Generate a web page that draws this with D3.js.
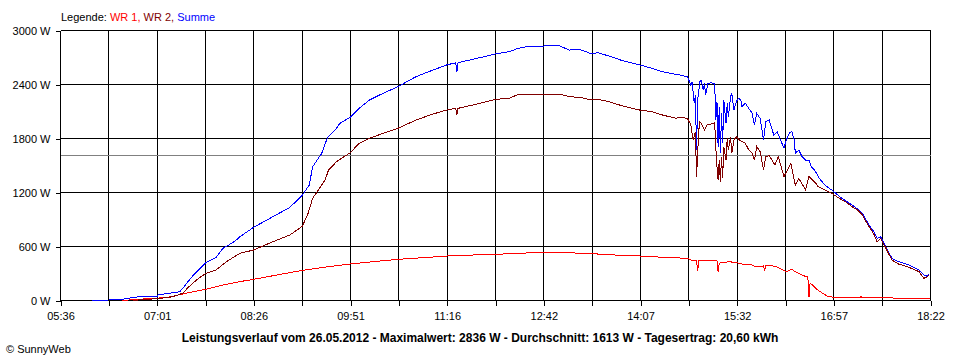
<!DOCTYPE html>
<html>
<head>
<meta charset="utf-8">
<script src="https://cdn.jsdelivr.net/npm/d3@7"></script>
<style>
body { margin: 0; background: #fff; }
svg { font-family: "Liberation Sans", Arial, sans-serif; }
</style>
</head>
<body>
<div id="chart"></div>
<script>

// Leistung in W, Zeit hh:mm
var wr1 = [["06:30",0],["06:43",12],["06:55",22],["07:01",25],["07:05",30],["07:12",40],["07:20",62],["07:30",90],["07:44",124],["08:00",175],["08:14",210],["08:26",235],["08:43",275],["08:58",310],["09:09",335],["09:30",372],["09:51",405],["10:10",430],["10:33",457],["11:00",480],["11:16",494],["11:40",506],["11:59",513],["12:20",525],["12:42",535],["13:00",532],["13:24",520],["13:45",505],["14:07",494],["14:30",478],["14:48",469],["14:52",442],["14:56",445],["14:57",328],["14:58",440],["15:01",450],["15:07",450],["15:14",440],["15:15",313],["15:16",415],["15:19",420],["15:25",431],["15:31",420],["15:36",405],["15:45",394],["15:48",376],["15:54",383],["15:55",385],["15:56",339],["15:57",390],["16:00",394],["16:06",376],["16:12",339],["16:15",320],["16:20",346],["16:23",320],["16:26",302],["16:31",272],["16:34",264],["16:35",36],["16:36",191],["16:38",172],["16:42",124],["16:47",80],["16:51",50],["16:56",36],["17:20",36],["17:21",42],["17:22",30],["18:22",25]];

var wr2 = [["06:40",0],["06:50",12],["07:01",20],["07:12",36],["07:18",55],["07:24",83],["07:28",140],["07:33",198],["07:38",250],["07:44",300],["07:53",339],["08:02",431],["08:14",524],["08:26",561],["08:43",653],["08:58",728],["09:05",790],["09:09",828],["09:14",969],["09:18",1135],["09:24",1246],["09:29",1339],["09:32",1450],["09:39",1542],["09:51",1642],["09:59",1746],["10:08",1802],["10:20",1857],["10:33",1913],["10:49",2005],["11:04",2072],["11:16",2116],["11:24",2135],["11:25",2061],["11:26",2135],["11:39",2172],["11:59",2235],["12:11",2246],["12:19",2291],["12:41",2291],["12:55",2294],["13:04",2265],["13:13",2257],["13:24",2228],["13:29",2235],["13:39",2209],["13:51",2161],["14:06",2116],["14:17",2098],["14:26",2061],["14:38",2024],["14:41",2035],["14:48",2024],["14:51",1950],["14:53",1783],["14:55",1876],["14:56",1376],["14:58",1894],["14:59",1987],["15:01",1950],["15:03",1894],["15:05",1950],["15:09",1961],["15:12",1976],["15:13",1691],["15:14",1486],["15:15",1339],["15:16",1561],["15:17",1320],["15:18",1598],["15:19",1358],["15:20",1709],["15:22",1561],["15:23",1802],["15:24",1672],["15:26",1820],["15:27",1635],["15:29",1783],["15:31",1820],["15:33",1791],["15:36",1765],["15:39",1746],["15:42",1672],["15:45",1635],["15:47",1561],["15:49",1709],["15:52",1654],["15:55",1450],["15:57",1598],["16:00",1610],["16:05",1506],["16:08",1598],["16:13",1376],["16:16",1450],["16:19",1524],["16:23",1283],["16:26",1358],["16:32",1228],["16:35",1376],["16:38",1339],["16:41",1302],["16:43",1264],["16:49",1228],["16:55",1191],["17:04",1117],["17:07",1098],["17:13",1042],["17:17",1013],["17:22",950],["17:27",840],["17:32",740],["17:35",653],["17:38",690],["17:42",598],["17:48",450],["17:54",405],["18:03",369],["18:12",320],["18:16",247],["18:19",260],["18:21",290]];

var summe = [["06:04",0],["06:30",10],["06:33",20],["06:45",42],["07:01",42],["07:02",65],["07:12",80],["07:21",98],["07:24",140],["07:27",191],["07:33",283],["07:44",420],["07:53",480],["07:59",580],["08:02",600],["08:10",664],["08:14",709],["08:26",813],["08:43",931],["08:58",1035],["09:09",1172],["09:15",1283],["09:18",1486],["09:26",1635],["09:31",1810],["09:39",1913],["09:42",1969],["09:51",2035],["09:59",2135],["10:08",2228],["10:20",2302],["10:33",2375],["10:49",2487],["11:04",2561],["11:16",2617],["11:24",2642],["11:25",2542],["11:26",2642],["11:39",2680],["11:59",2739],["12:11",2765],["12:19",2802],["12:29",2827],["12:41",2827],["12:50",2836],["12:55",2831],["13:04",2783],["13:13",2790],["13:24",2739],["13:29",2753],["13:39",2716],["13:51",2664],["14:06",2617],["14:17",2580],["14:26",2542],["14:38",2513],["14:41",2506],["14:48",2487],["14:51",2394],["14:52",2431],["14:54",2191],["14:55",2283],["14:56",1672],["14:57",2228],["14:59",2431],["15:00",2450],["15:02",2339],["15:03",2413],["15:04",2283],["15:06",2413],["15:09",2420],["15:12",2406],["15:13",2005],["15:14",2209],["15:15",1709],["15:16",2153],["15:17",1635],["15:18",2080],["15:19",1746],["15:20",2228],["15:22",1968],["15:23",2191],["15:24",2042],["15:26",2265],["15:27",2302],["15:29",2116],["15:31",2209],["15:33",2246],["15:35",2228],["15:36",2153],["15:39",2191],["15:42",2135],["15:45",2080],["15:47",1950],["15:49",2080],["15:52",2024],["15:55",1783],["15:57",1987],["16:00",2005],["16:04",1839],["16:07",1876],["16:13",1691],["16:15",1783],["16:18",1865],["16:20",1876],["16:22",1783],["16:23",1635],["16:26",1672],["16:29",1598],["16:32",1561],["16:35",1561],["16:37",1486],["16:40",1450],["16:44",1358],["16:49",1283],["16:55",1228],["17:04",1135],["17:13",1061],["17:17",1024],["17:22",969],["17:27",857],["17:32",765],["17:35",691],["17:38",709],["17:42",617],["17:48",469],["17:54",431],["18:03",394],["18:12",339],["18:16",283],["18:19",270],["18:21",290]];

var xLabels = ["05:36","07:01","08:26","09:51","11:16","12:42","14:07","15:32","16:57","18:22"];
var yTicks = [0, 600, 1200, 1800, 2400, 3000];
var durchschnitt = 1613;

var titel = "Leistungsverlauf vom 26.05.2012 - Maximalwert: 2836 W - Durchschnitt: 1613 W - Tagesertrag: 20,60 kWh";

var w = 960;
var h = 360;

var parse = d3.timeParse("%H:%M");

var svg = d3.select("#chart")
	.append("svg")
	.attr("width", w)
	.attr("height", h);

var t0 = parse(xLabels[0]);
var t1 = parse(xLabels[xLabels.length - 1]);

var x = d3.scaleTime().domain([t0, t1]).range([60.5, 930.5]);
var y = d3.scaleLinear().domain([0, 3000]).range([300.5, 30.5]);

// 18 gleiche Abschnitte, jede zweite Linie beschriftet
var xGrid = d3.range(19).map(function(i) {
	return new Date(+t0 + (t1 - t0) * i / 18);
});

var grid = svg.append("g").attr("shape-rendering", "crispEdges");

grid.selectAll(".v")
	.data(xGrid)
	.enter().append("line")
	.attr("x1", function(d) { return Math.round(x(d) - 0.5) + 0.5; })
	.attr("x2", function(d) { return Math.round(x(d) - 0.5) + 0.5; })
	.attr("y1", y(3000))
	.attr("y2", y(0))
	.attr("stroke", "#000");

grid.selectAll(".h")
	.data(yTicks)
	.enter().append("line")
	.attr("x1", x(t0))
	.attr("x2", x(t1))
	.attr("y1", function(d) { return y(d); })
	.attr("y2", function(d) { return y(d); })
	.attr("stroke", "#000");

grid.append("line")
	.attr("x1", x(t0))
	.attr("x2", x(t1))
	.attr("y1", Math.round(y(durchschnitt) - 0.5) + 0.5)
	.attr("y2", Math.round(y(durchschnitt) - 0.5) + 0.5)
	.attr("stroke", "#808080");

var xAxis = d3.axisBottom(x)
	.tickValues(xGrid)
	.tickSize(5)
	.tickPadding(7)
	.tickFormat(function(d, i) { return i % 2 ? "" : xLabels[i / 2]; });

svg.append("g")
	.attr("transform", "translate(0," + y(0) + ")")
	.attr("shape-rendering", "crispEdges")
	.call(xAxis)
	.call(function(g) { g.select(".domain").remove(); })
	.call(function(g) {
		g.selectAll("text").attr("font-size", 11).attr("fill", "#000")
			.attr("font-family", "Liberation Sans, Arial, sans-serif");
		g.selectAll(".tick line").attr("stroke", "#000");
	});

var yAxis = d3.axisLeft(y)
	.tickValues(yTicks)
	.tickSize(5)
	.tickPadding(5)
	.tickFormat(function(d) { return d + " W"; });

svg.append("g")
	.attr("transform", "translate(" + x(t0) + ",0)")
	.attr("shape-rendering", "crispEdges")
	.call(yAxis)
	.call(function(g) { g.select(".domain").remove(); })
	.call(function(g) {
		g.selectAll("text").attr("font-size", 11).attr("fill", "#000")
			.attr("font-family", "Liberation Sans, Arial, sans-serif");
		g.selectAll(".tick line").attr("stroke", "#000");
	});

var line = d3.line()
	.x(function(d) { return x(parse(d[0])); })
	.y(function(d) { return y(d[1]); });

var serien = [
	{ name: "Summe", data: summe, color: "#0000ff" },
	{ name: "WR 1", data: wr1, color: "#ff0000" },
	{ name: "WR 2", data: wr2, color: "#800000" }
];

svg.append("g")
	.selectAll("path")
	.data(serien)
	.enter().append("path")
	.attr("d", function(d) { return line(d.data); })
	.attr("fill", "none")
	.attr("stroke", function(d) { return d.color; })
	.attr("stroke-width", 1)
	.attr("shape-rendering", "crispEdges");

var legende = svg.append("text")
	.attr("x", 61)
	.attr("y", 21)
	.attr("font-size", 11);

legende.append("tspan").attr("fill", "#000").text("Legende: ");
legende.append("tspan").attr("fill", "#ff0000").text("WR 1, ");
legende.append("tspan").attr("fill", "#800000").text("WR 2, ");
legende.append("tspan").attr("fill", "#0000ff").text("Summe");

svg.append("text")
	.attr("x", 480)
	.attr("y", 342)
	.attr("text-anchor", "middle")
	.attr("font-size", 12)
	.attr("font-weight", "bold")
	.text(titel);

svg.append("text")
	.attr("x", 6)
	.attr("y", 353)
	.attr("font-size", 11)
	.text("\u00a9 SunnyWeb");

</script>
</body>
</html>
